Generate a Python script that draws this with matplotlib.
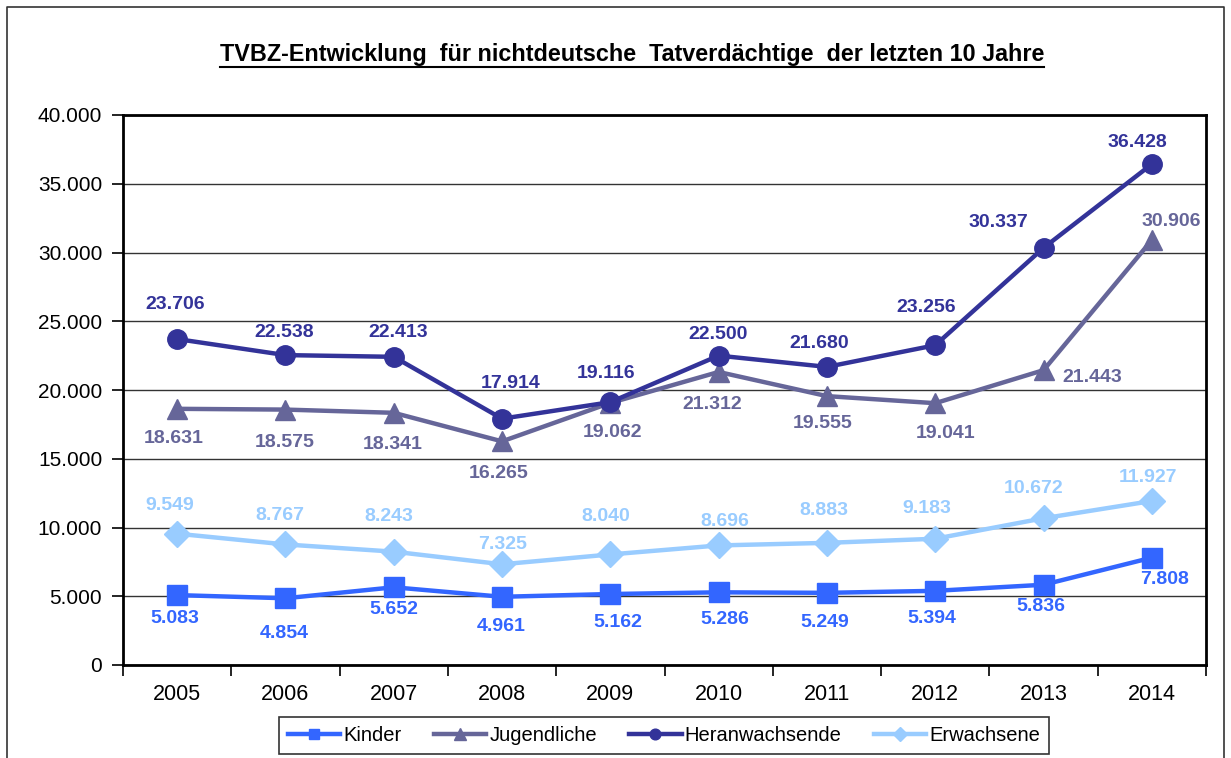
import matplotlib
matplotlib.use("Agg")
import matplotlib.pyplot as plt
from matplotlib.lines import Line2D
from matplotlib.ticker import FixedLocator, FuncFormatter

plt.rcParams['font.family'] = ['Liberation Sans', 'DejaVu Sans']

years = ["2005", "2006", "2007", "2008", "2009", "2010", "2011", "2012", "2013", "2014"]
kinder = [5083, 4854, 5652, 4961, 5162, 5286, 5249, 5394, 5836, 7808]
jugendliche = [18631, 18575, 18341, 16265, 19062, 21312, 19555, 19041, 21443, 30906]
heranwachsende = [23706, 22538, 22413, 17914, 19116, 22500, 21680, 23256, 30337, 36428]
erwachsene = [9549, 8767, 8243, 7325, 8040, 8696, 8883, 9183, 10672, 11927]
series_names = ["Kinder", "Jugendliche", "Heranwachsende", "Erwachsene"]
title = "TVBZ-Entwicklung  für nichtdeutsche  Tatverdächtige  der letzten 10 Jahre"

# styles
colors = ["#3366FF", "#666699", "#333399", "#99CCFF"]
markers = ["s", "^", "o", "D"]
msizes = [14, 15, 14, 13]
# label offsets in pixels (dx right, dy down)
offsets = [
    [(-2, 23), (-1, 35), (0, 22), (-1, 30), (7, 28), (6, 27), (-2, 30), (-3, 28), (-3, 22), (13, 22)],
    [(-3, 30), (-1, 33), (-1, 32), (-3, 32), (2, 30), (-6, 33), (-4, 27), (10, 30), (49, 7), (19, -19)],
    [(-2, -35), (-1, -23), (4, -24), (9, -35), (-4, -29), (-1, -21), (-8, -23), (-9, -38), (-45, -25), (-14, -22)],
    [(-7, -28), (-6, -29), (-5, -35), (1, -20), (-5, -38), (6, -24), (-3, -32), (-8, -30), (-10, -30), (-4, -24)],
]

W, H = 1231, 758
fig = plt.figure(figsize=(W / 100, H / 100), dpi=100)
ax = fig.add_axes([123 / W, 1 - 665 / H, (1206 - 123) / W, (665 - 115) / H])

data = [kinder, jugendliche, heranwachsende, erwachsene]
x = list(range(len(years)))
handles = []
for vals, name, c, m, ms, offs in zip(data, series_names, colors, markers, msizes, offsets):
    ln, = ax.plot(x, vals, color=c, lw=3.2, marker=m, ms=ms, mec=c, mfc=c, label=name, zorder=3)
    handles.append(ln)
    for xi, v, (dx, dy) in zip(x, vals, offs):
        ax.annotate(f"{v:,}".replace(",", "."), (xi, v), xytext=(dx * 0.72, -dy * 0.72),
                    textcoords="offset points", ha="center", va="center",
                    color=c, fontsize=14, fontweight="bold", zorder=4)

ax.set_xlim(-0.5, len(years) - 0.5)
ax.set_ylim(0, 40000)
ax.yaxis.set_major_locator(FixedLocator(range(0, 40001, 5000)))
ax.yaxis.set_major_formatter(FuncFormatter(lambda v, p: f"{int(v):,}".replace(",", ".")))
ax.grid(axis="y", color="#333333", lw=1.0, zorder=1)
ax.set_xticks(x)
ax.set_xticklabels(years)
ax.set_xticks([i - 0.5 for i in range(len(years) + 1)], minor=True)
ax.tick_params(axis="x", which="major", length=0, labelsize=15.5, pad=14)
ax.tick_params(axis="x", which="minor", length=8, width=1.2, direction="out")
ax.tick_params(axis="y", length=8, width=1.2, direction="out", labelsize=15, pad=7)
for s in ax.spines.values():
    s.set_linewidth(2)
    s.set_color("black")

leg = ax.legend(handles=handles, loc="center", bbox_to_anchor=(664 / W, 1 - 735.5 / H),
                bbox_transform=fig.transFigure, ncol=4, fontsize=14.5, frameon=True,
                fancybox=False, edgecolor="black", handlelength=2.6, handletextpad=0.15,
                columnspacing=1.6, markerscale=0.55, borderpad=0.45, borderaxespad=0)
leg.get_frame().set_linewidth(1.2)

t = fig.text(632 / W, 1 - 54 / H, title, ha="center", va="center", fontsize=16.8, fontweight="bold")
fig.canvas.draw()
bb = t.get_window_extent()
fig.add_artist(Line2D([bb.x0 / W, bb.x1 / W], [1 - 67 / H, 1 - 67 / H], transform=fig.transFigure,
                      color="black", lw=1.5))

# outer frame
fig.add_artist(Line2D([7 / W, 7 / W, 1224 / W, 1224 / W], [0, 1 - 7 / H, 1 - 7 / H, 0],
                      transform=fig.transFigure, color="#333333", lw=1.2))

fig.savefig("out.png", dpi=100)
